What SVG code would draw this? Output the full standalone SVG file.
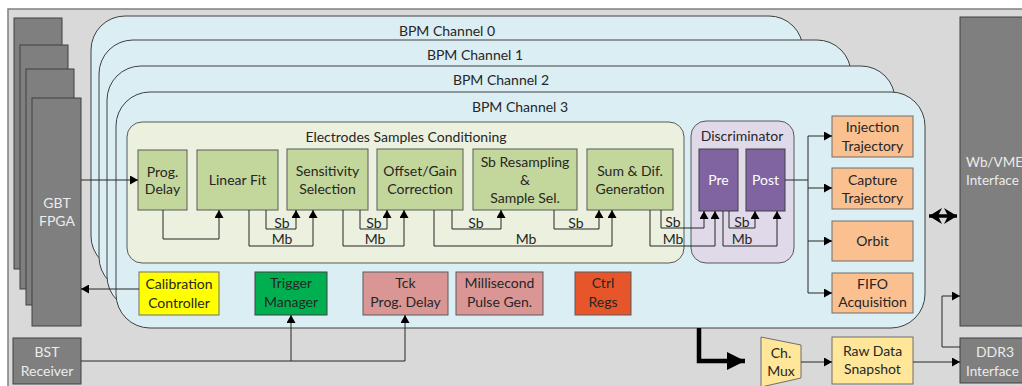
<svg xmlns="http://www.w3.org/2000/svg" width="1022" height="386" viewBox="0 0 1022 386">
<defs>
<style>
text{font-family:Lato,"Liberation Sans",sans-serif;font-size:14px;fill:#262626;text-anchor:middle}
.w{fill:#ececec}
.ws{fill:#ececec;text-anchor:start;font-size:13.5px}
.pw{fill:#ffffff}
.ch{fill:#dbeef4;stroke:#404040;stroke-width:1}
.gb{fill:#c3d69b;stroke:#5a5a5a;stroke-width:1}
.pb{fill:#8064a2;stroke:#404040;stroke-width:1}
.ob{fill:#fac090;stroke:#6f6f6f;stroke-width:1}
.db{fill:#7f7f7f;stroke:#404040;stroke-width:1}
.yb{fill:#ffe699;stroke:#6f6f6f;stroke-width:1}
.pk{fill:#d99694;stroke:#5a5a5a;stroke-width:1}
.c{fill:none;stroke:#262626;stroke-width:1}
</style>
<marker id="a" markerUnits="userSpaceOnUse" markerWidth="8" markerHeight="9" refX="8" refY="4.5" orient="auto">
<path d="M0,0L8,4.5L0,9z" fill="#000"/>
</marker>
<marker id="big" markerUnits="userSpaceOnUse" markerWidth="20" markerHeight="18" refX="18" refY="9" orient="auto">
<path d="M0,0L18,9L0,18z" fill="#000"/>
</marker>
<marker id="dbl" markerUnits="userSpaceOnUse" markerWidth="14" markerHeight="16" refX="13" refY="8" orient="auto-start-reverse">
<path d="M0,0L13,8L0,16L4,8z" fill="#000"/>
</marker>
</defs>

<rect x="8" y="9" width="1040" height="400" fill="#d9d9d9" stroke="#7f7f7f" stroke-width="1.5"/>

<g id="gbt-fpga">
<rect class="db" x="14" y="18" width="48" height="251"/>
<rect class="db" x="20" y="45" width="48" height="244"/>
<rect class="db" x="26" y="69" width="48" height="236"/>
<rect class="db" x="32" y="98" width="49" height="228"/>
<text class="w" x="57" y="208">GBT</text>
<text class="w" x="57" y="226">FPGA</text>
</g>

<g id="bst-receiver">
<rect class="db" x="13" y="338" width="68" height="46"/>
<text class="w" x="47" y="357">BST</text>
<text class="w" x="47" y="376">Receiver</text>
</g>

<g id="channel0">
<rect class="ch" x="91" y="16" width="712" height="254" rx="34" ry="34"/>
<text x="447" y="36">BPM Channel 0</text>
</g>
<g id="channel1">
<rect class="ch" x="99" y="40" width="752" height="251" rx="34" ry="34"/>
<text x="475" y="60">BPM Channel 1</text>
</g>
<g id="channel2">
<rect class="ch" x="107" y="66" width="788" height="244" rx="34" ry="34"/>
<text x="501" y="85">BPM Channel 2</text>
</g>
<g id="channel3">
<rect class="ch" x="116" y="92" width="809" height="236" rx="34" ry="34"/>
<text x="520" y="112">BPM Channel 3</text>
</g>

<g id="esc">
<rect x="127" y="122" width="557" height="141" rx="15" ry="15" fill="#ebf1de" stroke="#595959" stroke-width="1"/>
<text x="406" y="142">Electrodes Samples Conditioning</text>
</g>

<g id="discriminator">
<rect x="691" y="121" width="103" height="142" rx="15" ry="15" fill="#e0d9e9" stroke="#595959" stroke-width="1"/>
<text x="742" y="141">Discriminator</text>
</g>

<g id="prog-delay">
<rect class="gb" x="138" y="150" width="49" height="60"/>
<text x="162.5" y="177">Prog.</text>
<text x="162.5" y="194">Delay</text>
</g>
<g id="linear-fit">
<rect class="gb" x="197" y="150" width="81" height="60"/>
<text x="237.5" y="185">Linear Fit</text>
</g>
<g id="sensitivity">
<rect class="gb" x="287" y="149" width="81" height="61"/>
<text x="327.5" y="176">Sensitivity</text>
<text x="327.5" y="194">Selection</text>
</g>
<g id="offset-gain">
<rect class="gb" x="377" y="149" width="86" height="61"/>
<text x="420" y="176">Offset/Gain</text>
<text x="420" y="194">Correction</text>
</g>
<g id="sb-resampling">
<rect class="gb" x="473" y="149" width="104" height="61"/>
<text x="525" y="167">Sb Resampling</text>
<text x="525" y="185">&amp;</text>
<text x="525" y="203">Sample Sel.</text>
</g>
<g id="sum-dif">
<rect class="gb" x="587" y="149" width="86" height="61"/>
<text x="630" y="176">Sum &amp; Dif.</text>
<text x="630" y="194">Generation</text>
</g>
<g id="pre">
<rect class="pb" x="699" y="149" width="39" height="62"/>
<text class="pw" x="718.5" y="185">Pre</text>
</g>
<g id="post">
<rect class="pb" x="746" y="149" width="39" height="62"/>
<text class="pw" x="765.5" y="185">Post</text>
</g>

<g id="injection">
<rect class="ob" x="832" y="116" width="81" height="41"/>
<text x="872.5" y="132">Injection</text>
<text x="872.5" y="151">Trajectory</text>
</g>
<g id="capture">
<rect class="ob" x="832" y="168" width="81" height="41"/>
<text x="872.5" y="185">Capture</text>
<text x="872.5" y="203">Trajectory</text>
</g>
<g id="orbit">
<rect class="ob" x="832" y="221" width="81" height="40"/>
<text x="872.5" y="246">Orbit</text>
</g>
<g id="fifo">
<rect class="ob" x="832" y="273" width="81" height="40"/>
<text x="872.5" y="289">FIFO</text>
<text x="872.5" y="307">Acquisition</text>
</g>

<g id="calibration">
<rect x="139" y="272" width="80" height="43" fill="#ffff00" stroke="#6f6f6f" stroke-width="1"/>
<text x="179" y="289">Calibration</text>
<text x="179" y="308">Controller</text>
</g>
<g id="trigger">
<rect x="255" y="272" width="72" height="43" fill="#00b050" stroke="#404040" stroke-width="1"/>
<text x="291" y="288">Trigger</text>
<text x="291" y="307">Manager</text>
</g>
<g id="tck">
<rect class="pk" x="363" y="272" width="85" height="43"/>
<text x="405.5" y="288">Tck</text>
<text x="405.5" y="307">Prog. Delay</text>
</g>
<g id="millisecond">
<rect class="pk" x="456" y="272" width="87" height="43"/>
<text x="499.5" y="288">Millisecond</text>
<text x="499.5" y="307">Pulse Gen.</text>
</g>
<g id="ctrl-regs">
<rect x="575" y="272" width="56" height="43" fill="#e6562a" stroke="#5a5a5a" stroke-width="1"/>
<text x="603" y="288">Ctrl</text>
<text x="603" y="307">Regs</text>
</g>

<g id="wb-vme">
<rect class="db" x="960" y="17" width="80" height="309"/>
<text class="ws" x="966" y="167">Wb/VME</text>
<text class="ws" x="966" y="185">Interface</text>
</g>
<g id="ddr3">
<rect class="db" x="960" y="338" width="80" height="45"/>
<text class="w" x="995" y="357">DDR3</text>
<text class="ws" x="966" y="376">Interface</text>
</g>
<g id="raw-data">
<rect class="yb" x="832" y="337" width="81" height="47"/>
<text x="872.5" y="356">Raw Data</text>
<text x="872.5" y="374">Snapshot</text>
</g>
<g id="ch-mux">
<path class="yb" d="M761,337L801,345L801,378L761,387z"/>
<text x="781" y="358">Ch.</text>
<text x="781" y="376">Mux</text>
</g>

<g id="connectors">
<path class="c" d="M81,180H138" marker-end="url(#a)"/>
<path class="c" d="M139,289H81" marker-end="url(#a)"/>
<path class="c" d="M81,361H405V315" marker-end="url(#a)"/>
<path class="c" d="M291,361V315" marker-end="url(#a)"/>
<path class="c" d="M163,210V239H219V210" marker-end="url(#a)"/>
<path class="c" d="M266,210V229H296V210" marker-end="url(#a)"/>
<path class="c" d="M249,210V246H313V210" marker-end="url(#a)"/>
<path class="c" d="M360,210V229H387V210" marker-end="url(#a)"/>
<path class="c" d="M343,210V246H404V210" marker-end="url(#a)"/>
<path class="c" d="M452,210V229H501V210" marker-end="url(#a)"/>
<path class="c" d="M554,210V229H599V210" marker-end="url(#a)"/>
<path class="c" d="M434,210V246H612V210" marker-end="url(#a)"/>
<path class="c" d="M661,210V228H704V211" marker-end="url(#a)"/>
<path class="c" d="M650,210V246H715V211" marker-end="url(#a)"/>
<path class="c" d="M729,211V228H755V211" marker-end="url(#a)"/>
<path class="c" d="M723,211V246H777V211" marker-end="url(#a)"/>
<path class="c" d="M785,180H808"/>
<path class="c" d="M808,136V293"/>
<path class="c" d="M808,136H832" marker-end="url(#a)"/>
<path class="c" d="M808,188H832" marker-end="url(#a)"/>
<path class="c" d="M808,241H832" marker-end="url(#a)"/>
<path class="c" d="M808,293H832" marker-end="url(#a)"/>
<path d="M929,216H957" fill="none" stroke="#000" stroke-width="3.5" marker-start="url(#dbl)" marker-end="url(#dbl)"/>
<path d="M699,328V361H745" fill="none" stroke="#000" stroke-width="4.5" marker-end="url(#big)"/>
<path class="c" d="M801,362H832" marker-end="url(#a)"/>
<path class="c" d="M913,362H960" marker-end="url(#a)"/>
<path class="c" d="M960,347H942V296H960" marker-end="url(#a)"/>
<g id="bus-labels">
<text x="282" y="228">Sb</text>
<text x="282" y="244">Mb</text>
<text x="374" y="228">Sb</text>
<text x="375" y="244">Mb</text>
<text x="476" y="228">Sb</text>
<text x="526" y="244">Mb</text>
<text x="576" y="228">Sb</text>
<text x="673" y="227">Sb</text>
<text x="673" y="244">Mb</text>
<text x="742" y="227">Sb</text>
<text x="742" y="244">Mb</text>
</g>
</g>
</svg>
